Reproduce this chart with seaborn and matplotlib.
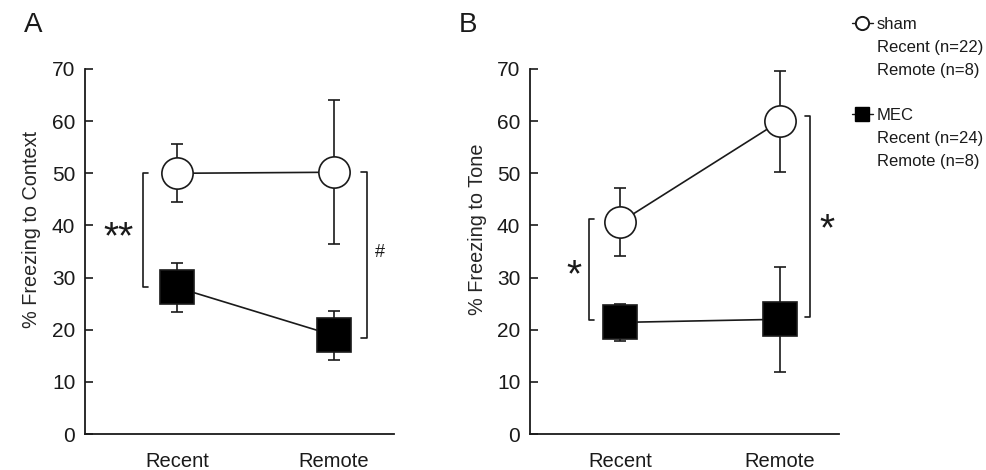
import matplotlib
matplotlib.use("Agg")
import matplotlib.pyplot as plt
from matplotlib.lines import Line2D
import seaborn as sns
import pandas as pd

# data
phases = ["Recent", "Remote"]
groups = ["sham", "MEC"]

context_sham = [50.0, 50.2]
context_sham_err = [5.6, 13.8]
context_mec = [28.1, 18.9]
context_mec_err = [4.7, 4.7]

tone_sham = [40.6, 60.0]
tone_sham_err = [6.5, 9.7]
tone_mec = [21.4, 22.0]
tone_mec_err = [3.6, 10.1]

legend_labels = ["sham", "Recent (n=22)", "Remote (n=8)", "",
                 "MEC", "Recent (n=24)", "Remote (n=8)"]

sns.set_style("white")
plt.rcParams["font.family"] = ["Liberation Sans", "DejaVu Sans"]
plt.rcParams["text.color"] = "#1a1a1a"

fig = plt.figure(figsize=(9.87, 4.70), dpi=100)
axA = fig.add_axes([85 / 987, 36 / 470, 309 / 987, 365 / 470])
axB = fig.add_axes([530 / 987, 36 / 470, 309 / 987, 365 / 470])


def make_df(sham, sham_err, mec, mec_err):
    rows = []
    for g, vals, errs in [("sham", sham, sham_err), ("MEC", mec, mec_err)]:
        for i, p in enumerate(phases):
            rows.append({"group": g, "phase": p, "pos": i,
                         "value": vals[i], "err": errs[i]})
    return pd.DataFrame(rows)


def draw_panel(ax, df, ylabel, xlim, labelpad):
    for g, marker, face, ms in [("sham", "o", "white", 22.5), ("MEC", "s", "black", 24)]:
        sub = df[df["group"] == g]
        ax.errorbar(sub["pos"], sub["value"], yerr=sub["err"], fmt="none",
                    ecolor="#1a1a1a", elinewidth=1.2, capsize=4, capthick=1.2,
                    zorder=2)
        sns.lineplot(data=sub, x="pos", y="value", ax=ax, color="#1a1a1a",
                     linewidth=1.2, marker=marker, markersize=ms,
                     markerfacecolor=face, markeredgecolor="#1a1a1a",
                     markeredgewidth=1.2, zorder=3, legend=False)
    ax.set_xlim(*xlim)
    ax.set_ylim(0, 70)
    ax.set_yticks(range(0, 71, 10))
    ax.set_xticks([0, 1])
    ax.set_xticklabels(phases, fontsize=14.5)
    ax.set_xlabel("")
    ax.set_ylabel(ylabel, fontsize=14.3, labelpad=labelpad, y=0.56)
    ax.tick_params(axis="y", direction="in", length=6, width=1.2,
                   labelsize=15, pad=7, left=True, colors="#1a1a1a")
    ax.tick_params(axis="x", length=0, pad=13, colors="#1a1a1a")
    sns.despine(ax=ax)
    for s in ["left", "bottom"]:
        ax.spines[s].set_linewidth(1.3)
        ax.spines[s].set_color("#1a1a1a")
    ax.patch.set_alpha(0)


def bracket(ax, x, y0, y1, side, w=0.035):
    d = w if side == "left" else -w
    ax.plot([x + d, x, x, x + d], [y0, y0, y1, y1], color="#1a1a1a",
            linewidth=1.2, clip_on=False)


dfA = make_df(context_sham, context_sham_err, context_mec, context_mec_err)
dfB = make_df(tone_sham, tone_sham_err, tone_mec, tone_mec_err)

draw_panel(axA, dfA, "% Freezing to Context", (-0.586, 1.382), 8)
draw_panel(axB, dfB, "% Freezing to Tone", (-0.5625, 1.369), 7)

# significance brackets
bracket(axA, -0.217, context_sham[0], 28.2, "left")
axA.text(-0.375, 37.6, "**", fontsize=28, ha="center", va="center")
bracket(axA, 1.21, context_sham[1], 18.4, "right")
axA.text(1.29, 34.8, "#", fontsize=13, ha="center", va="center")

bracket(axB, -0.195, 41.2, 21.9, "left")
axB.text(-0.29, 30.2, "*", fontsize=28, ha="center", va="center")
bracket(axB, 1.19, 60.9, 22.5, "right")
axB.text(1.295, 39.0, "*", fontsize=28, ha="center", va="center")

# panel letters
fig.text(24 / 987, 1 - 25 / 470, "A", fontsize=20, va="center", ha="left")
fig.text(459 / 987, 1 - 25 / 470, "B", fontsize=20, va="center", ha="left")

# legend
blank = Line2D([], [], linestyle="none", marker="none")
h_sham = Line2D([], [], color="#1a1a1a", linewidth=1, marker="o", markersize=9.5,
                markerfacecolor="white", markeredgecolor="#1a1a1a", markeredgewidth=1.4)
h_mec = Line2D([], [], color="#1a1a1a", linewidth=1, marker="s", markersize=9.5,
               markerfacecolor="black", markeredgecolor="black")
handles = [h_sham, blank, blank, blank, h_mec, blank, blank]
leg = fig.legend(handles, legend_labels, loc="upper left",
                 bbox_to_anchor=(852 / 987, 1 - 17 / 470), frameon=False,
                 fontsize=12, handlelength=1.25, handletextpad=0.25,
                 labelspacing=0.47, borderaxespad=0, borderpad=0)

fig.savefig("out.png", dpi=100)
